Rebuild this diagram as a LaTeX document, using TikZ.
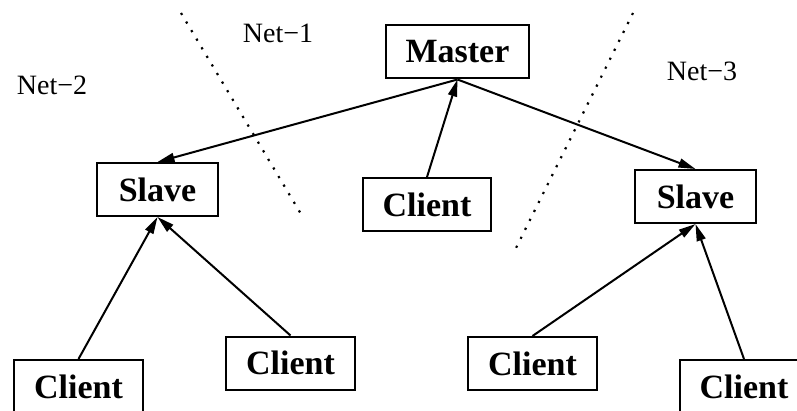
\documentclass[tikz,border=0pt]{standalone}
\usepackage{fontspec}
\setmainfont{Liberation Serif}
\usetikzlibrary{arrows.meta}

\tikzset{
  host/.style={shape=rectangle, draw, line width=1pt, inner xsep=10pt, inner ysep=0pt,
    minimum height=26.5pt, minimum width=60.5pt, font=\fontsize{17}{20}\selectfont\bfseries},
  link/.style={-{Triangle[length=8.5pt, width=4.5pt]}, line width=1pt},
  netborder/.style={line width=1.1pt, dash pattern=on 1.1pt off 3.9pt},
  netname/.style={font=\fontsize{14}{16}\selectfont}
}

\begin{document}
\begin{tikzpicture}[x=0.5pt, y=-0.5pt]
    \useasboundingbox (0, 0) rectangle (797, 411);
    \clip (0, 0) rectangle (797, 411);

    \node [host] (master) at (457.5, 52) {Master};
    \node [host] (slave1) at (157.5, 189.5) {Slave};
    \node [host] (slave2) at (695.5, 196.5) {Slave};

    \node [host] (client0) at (427, 204.5) {Client};
    \node [host] (client1) at (78.5, 386.5) {Client};
    \node [host] (client2) at (290.5, 363) {Client};
    \node [host] (client3) at (532.5, 363.5) {Client};
    \node [host] (client4) at (744, 386.5) {Client};

    \node [netname] (net1) at (278, 33) {Net−1};
    \node [netname] (net2) at (52, 85) {Net−2};
    \node [netname] (net3) at (702, 71) {Net−3};

    % borders between the nets
    \coordinate (b1top) at (181, 13);
    \coordinate (b1bot) at (301, 214);
    \coordinate (b2top) at (633, 13);
    \coordinate (b2bot) at (515, 250);
    \draw [netborder] (b1top) -- (b1bot);
    \draw [netborder] (b2top) -- (b2bot);

    \draw [link] (master.south) -- (slave1.north);
    \draw [link] (master.south) -- (slave2.north);
    \draw [link] (client0.north) -- (master.south);

    \draw [link] (client1.north) -- (slave1.south);
    \draw [link] (client2.north) -- (slave1.south);
    \draw [link] (client3.north) -- (slave2.south);
    \draw [link] (client4.north) -- (slave2.south);
\end{tikzpicture}
\end{document}
